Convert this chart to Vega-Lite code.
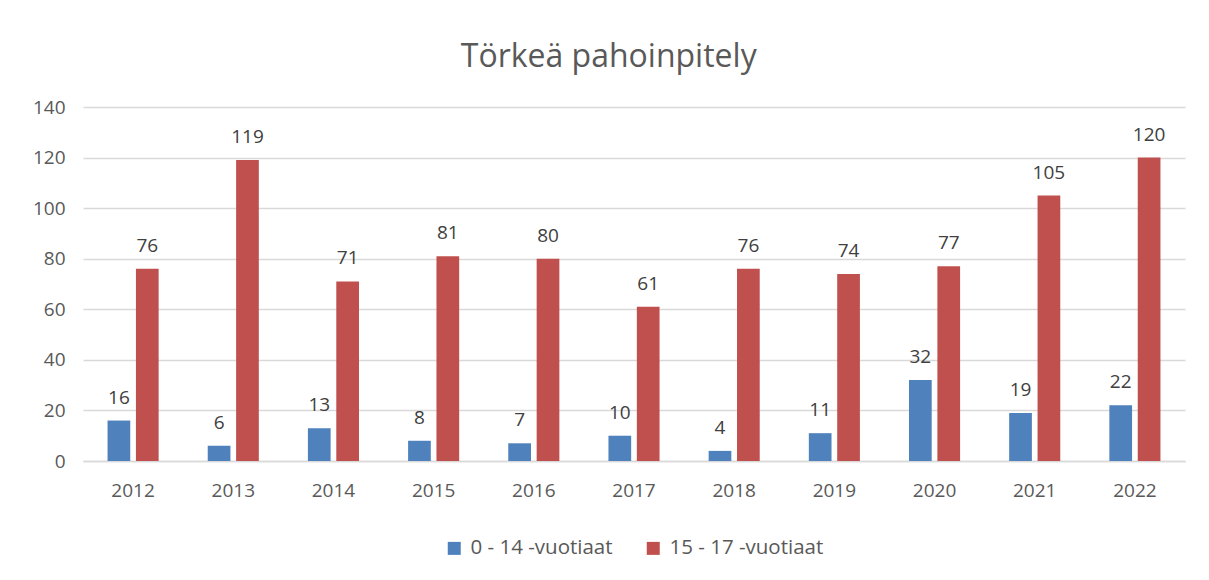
{
  "$schema": "https://vega.github.io/schema/vega-lite/v6.json",
  "width": 1102,
  "height": 354,
  "autosize": {"type": "none"},
  "padding": {"left": 83, "top": 107, "right": 24, "bottom": 119},
  "background": "white",
  "title": {
    "text": "Törkeä pahoinpitely",
    "fontSize": 32,
    "font": "Open Sans",
    "fontWeight": "normal",
    "color": "#595959",
    "anchor": "middle",
    "frame": "bounds",
    "offset": 24
  },
  "data": {
    "values": [
      {"year": "2012", "group": "0 - 14 -vuotiaat", "value": 16},
      {"year": "2012", "group": "15 - 17 -vuotiaat", "value": 76},
      {"year": "2013", "group": "0 - 14 -vuotiaat", "value": 6},
      {"year": "2013", "group": "15 - 17 -vuotiaat", "value": 119},
      {"year": "2014", "group": "0 - 14 -vuotiaat", "value": 13},
      {"year": "2014", "group": "15 - 17 -vuotiaat", "value": 71},
      {"year": "2015", "group": "0 - 14 -vuotiaat", "value": 8},
      {"year": "2015", "group": "15 - 17 -vuotiaat", "value": 81},
      {"year": "2016", "group": "0 - 14 -vuotiaat", "value": 7},
      {"year": "2016", "group": "15 - 17 -vuotiaat", "value": 80},
      {"year": "2017", "group": "0 - 14 -vuotiaat", "value": 10},
      {"year": "2017", "group": "15 - 17 -vuotiaat", "value": 61},
      {"year": "2018", "group": "0 - 14 -vuotiaat", "value": 4},
      {"year": "2018", "group": "15 - 17 -vuotiaat", "value": 76},
      {"year": "2019", "group": "0 - 14 -vuotiaat", "value": 11},
      {"year": "2019", "group": "15 - 17 -vuotiaat", "value": 74},
      {"year": "2020", "group": "0 - 14 -vuotiaat", "value": 32},
      {"year": "2020", "group": "15 - 17 -vuotiaat", "value": 77},
      {"year": "2021", "group": "0 - 14 -vuotiaat", "value": 19},
      {"year": "2021", "group": "15 - 17 -vuotiaat", "value": 105},
      {"year": "2022", "group": "0 - 14 -vuotiaat", "value": 22},
      {"year": "2022", "group": "15 - 17 -vuotiaat", "value": 120}
    ]
  },
  "encoding": {
    "x": {
      "field": "year",
      "type": "nominal",
      "title": null,
      "scale": {"paddingInner": 0.49, "paddingOuter": 0.245},
      "axis": {
        "labelAngle": 0,
        "ticks": false,
        "domainColor": "#D9D9D9",
        "domainWidth": 1.5,
        "labelFont": "Open Sans",
        "labelFontSize": 19,
        "labelColor": "#595959",
        "labelPadding": 20,
        "grid": false
      }
    },
    "xOffset": {
      "field": "group",
      "type": "nominal",
      "scale": {"paddingInner": 0.2, "paddingOuter": 0}
    },
    "y": {
      "field": "value",
      "type": "quantitative",
      "title": null,
      "scale": {"domain": [0, 140], "nice": false},
      "axis": {
        "values": [0, 20, 40, 60, 80, 100, 120, 140],
        "domain": false,
        "ticks": false,
        "gridColor": "#D9D9D9",
        "gridWidth": 1.5,
        "labelFont": "Open Sans",
        "labelFontSize": 19,
        "labelColor": "#595959",
        "labelPadding": 18
      }
    }
  },
  "layer": [
    {
      "mark": {"type": "bar"},
      "encoding": {
        "color": {
          "field": "group",
          "type": "nominal",
          "scale": {"domain": ["0 - 14 -vuotiaat", "15 - 17 -vuotiaat"], "range": ["#4F81BD", "#C0504D"]},
          "legend": {
            "title": null,
            "orient": "bottom",
            "direction": "horizontal",
            "symbolType": "square",
            "symbolSize": 169,
            "symbolStrokeWidth": 0,
            "labelFont": "Open Sans",
            "labelFontSize": 20.5,
            "labelColor": "#595959",
            "labelOffset": 6,
            "columnPadding": 30,
            "offset": 38
          }
        }
      }
    },
    {
      "mark": {"type": "text", "baseline": "alphabetic", "dy": -17, "font": "Open Sans", "fontSize": 19, "color": "#404040"},
      "encoding": {
        "text": {"field": "value", "type": "quantitative"}
      }
    }
  ],
  "config": {
    "view": {"stroke": null},
    "legend": {"layout": {"bottom": {"anchor": "middle"}}}
  }
}
